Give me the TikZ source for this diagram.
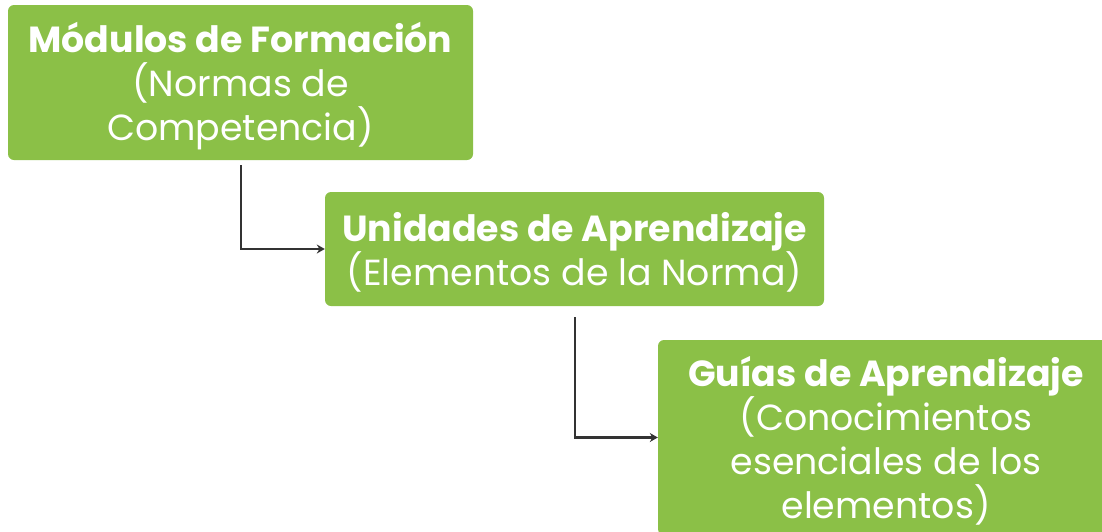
\documentclass[tikz,border=0pt]{standalone}
\usepackage{fontspec}
\setmainfont{Poppins}
\usetikzlibrary{arrows.meta}
\definecolor{boxgreen}{HTML}{8BC047}
\definecolor{linegray}{HTML}{333333}
\begin{document}
\begin{tikzpicture}[x=1pt,y=-1pt,
  box/.style={fill=boxgreen, rounded corners=6pt, inner sep=0pt},
  boxtext/.style={text=white, align=center, inner sep=0pt, font=\fontsize{36.3}{44}\selectfont},
  conn/.style={draw=linegray, line width=2.2pt, -{Stealth[length=8pt,width=9pt]}}]
\useasboundingbox (0,0) rectangle (1102,531);
\clip (0,0) rectangle (1102,531);
\node[box, minimum width=465pt, minimum height=155pt] (m) at (240.5,82.5) {};
\node[boxtext] (mt) at ([yshift=-4pt]m.center)
  {\textbf{Módulos de Formación}\\(Normas de\\Competencia)};
\node[box, minimum width=499pt, minimum height=114pt] (u) at (574.5,249) {};
\node[boxtext] (ut) at ([yshift=-3pt]u.center)
  {\textbf{Unidades de Aprendizaje}\\(Elementos de la Norma)};
\node[box, minimum width=456pt, minimum height=195pt] (g) at (886,437.5) {};
\node[boxtext] (gt) at ([yshift=-3pt]g.center)
  {\textbf{Guías de Aprendizaje}\\(Conocimientos\\esenciales de los\\elementos)};
\coordinate (s1) at (241,165);
\coordinate (s2) at (575,317);
\draw[conn] (s1) |- (u.west);
\draw[conn] (s2) |- (g.west);
\end{tikzpicture}
\end{document}
